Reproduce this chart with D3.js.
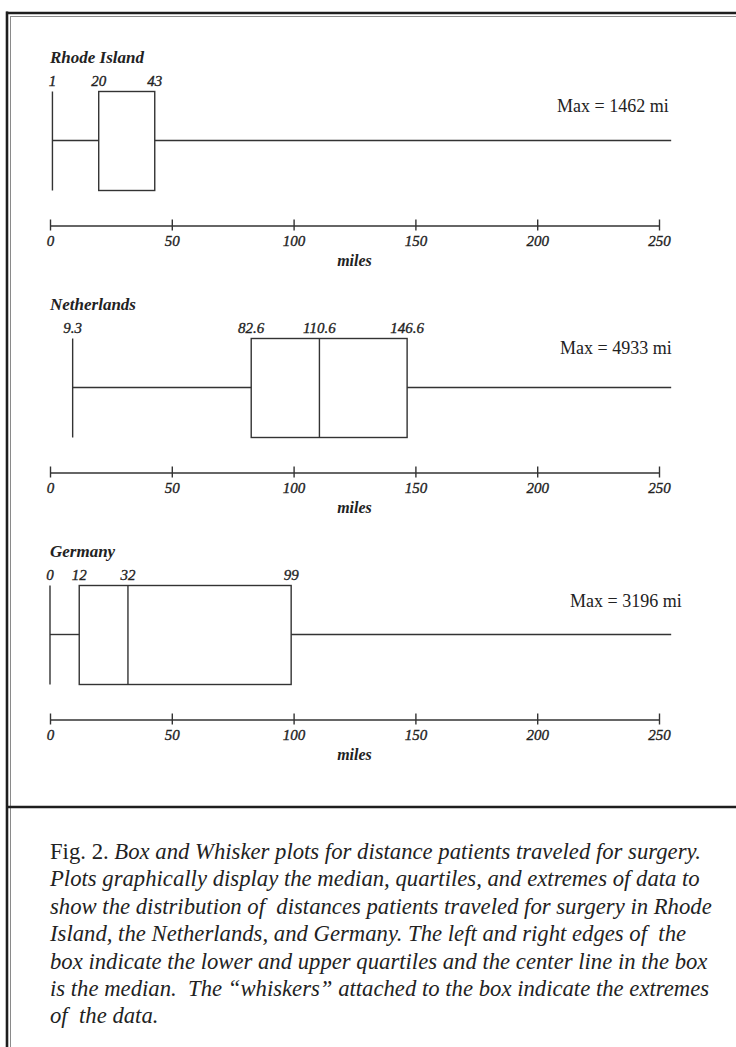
<!DOCTYPE html>
<html>
<head>
<meta charset="utf-8">
<script src="https://cdn.jsdelivr.net/npm/d3@7"></script>
<style>
  html, body { margin: 0; padding: 0; background: #fff; }
  svg { display: block; }
</style>
</head>
<body>
<svg id="chart" width="736" height="1047"></svg>
<script>
// box plot values, miles
const regions = ['Rhode Island', 'Netherlands', 'Germany'];
const minVals = [1, 9.3, 0];
const q1Vals = [20, 82.6, 12];
const medianVals = [null, 110.6, 32];
const q3Vals = [43, 146.6, 99];
const maxVals = [1462, 4933, 3196];
const axisTicks = [0, 50, 100, 150, 200, 250];
const axisDomain = [0, 250];
const whiskerCap = 255; // upper whisker is cut off here
const captionLines = [
  'Plots graphically display the median, quartiles, and extremes of data to',
  'show the distribution of  distances patients traveled for surgery in Rhode',
  'Island, the Netherlands, and Germany. The left and right edges of  the',
  'box indicate the lower and upper quartiles and the center line in the box',
  'is the median.  The \u201cwhiskers\u201d attached to the box indicate the extremes',
  'of  the data.'
];

const serif = '"Liberation Serif", "Times New Roman", serif';
const ink = '#222';
const svg = d3.select('#chart');

const x = d3.scaleLinear().domain(axisDomain).range([50, 659]);

// frame
svg.append('rect').attr('x', 0).attr('y', 0).attr('width', 736).attr('height', 1047).attr('fill', '#fff');
svg.append('line').attr('x1', 7).attr('x2', 7).attr('y1', 11.5).attr('y2', 1047)
  .attr('stroke', '#1e1e1e').attr('stroke-width', 2.6);
svg.append('line').attr('x1', 6).attr('x2', 736).attr('y1', 13).attr('y2', 13)
  .attr('stroke', '#1e1e1e').attr('stroke-width', 2.6);
svg.append('line').attr('x1', 10.5).attr('x2', 10.5).attr('y1', 16).attr('y2', 1047)
  .attr('stroke', '#8a8a8a').attr('stroke-width', 1);
svg.append('line').attr('x1', 10).attr('x2', 736).attr('y1', 16.5).attr('y2', 16.5)
  .attr('stroke', '#8a8a8a').attr('stroke-width', 1);
svg.append('line').attr('x1', 7).attr('x2', 736).attr('y1', 807).attr('y2', 807)
  .attr('stroke', '#1e1e1e').attr('stroke-width', 2.6);

const maxLabelPos = [[557, 48.5], [560, 43.5], [570, 50]];

regions.forEach((name, i) => {
  const y0 = 63 + i * 247;
  const g = svg.append('g').attr('transform', 'translate(0,' + y0 + ')');
  const top = 28.5, bot = 127.5, mid = 77.5;

  g.append('text').attr('x', 50).attr('y', 0)
    .attr('font-family', serif).attr('font-style', 'italic').attr('font-weight', 'bold')
    .attr('font-size', 17).attr('fill', ink).text(name);

  const stroke = (sel) => sel.attr('stroke', '#333').attr('stroke-width', 1.4).attr('fill', 'none');

  // whiskers
  g.append('line').attr('x1', x(minVals[i])).attr('x2', x(minVals[i]))
    .attr('y1', top).attr('y2', bot).call(stroke);
  g.append('line').attr('x1', x(minVals[i])).attr('x2', x(q1Vals[i]))
    .attr('y1', mid).attr('y2', mid).call(stroke);
  g.append('line').attr('x1', x(q3Vals[i])).attr('x2', x(Math.min(maxVals[i], whiskerCap)))
    .attr('y1', mid).attr('y2', mid).call(stroke);

  // box
  g.append('rect').attr('x', x(q1Vals[i])).attr('y', top)
    .attr('width', x(q3Vals[i]) - x(q1Vals[i])).attr('height', bot - top).call(stroke);
  if (medianVals[i] !== null) {
    g.append('line').attr('x1', x(medianVals[i])).attr('x2', x(medianVals[i]))
      .attr('y1', top).attr('y2', bot).call(stroke);
  }

  // value labels
  const vals = [minVals[i], q1Vals[i], medianVals[i], q3Vals[i]].filter(v => v !== null);
  g.selectAll('text.val').data(vals).enter().append('text').attr('class', 'val')
    .attr('x', d => x(d)).attr('y', 22.5).attr('text-anchor', 'middle')
    .attr('font-family', serif).attr('font-style', 'italic').attr('font-size', 15)
    .attr('fill', ink).attr('stroke', ink).attr('stroke-width', 0.35).text(d => d);

  g.append('text').attr('x', maxLabelPos[i][0]).attr('y', maxLabelPos[i][1])
    .attr('font-family', serif).attr('font-size', 18).attr('fill', ink)
    .text('Max = ' + maxVals[i] + ' mi');

  // axis
  const ax = g.append('g').attr('transform', 'translate(0,162.5)')
    .call(d3.axisBottom(x).tickValues(axisTicks).tickSize(5).tickSizeOuter(0).tickFormat(d3.format('d')));
  ax.select('.domain').attr('stroke', '#333').attr('stroke-width', 1.5);
  ax.selectAll('.tick line').attr('y1', -6).attr('y2', 5).attr('stroke', '#333').attr('stroke-width', 1.4);
  ax.selectAll('.tick text').attr('y', 20).attr('dy', null)
    .attr('font-family', serif).attr('font-style', 'italic').attr('font-size', 15)
    .attr('fill', ink).attr('stroke', ink).attr('stroke-width', 0.35);

  g.append('text').attr('x', (x.range()[0] + x.range()[1]) / 2).attr('y', 203)
    .attr('text-anchor', 'middle').attr('font-family', serif).attr('font-style', 'italic')
    .attr('font-weight', 'bold').attr('font-size', 16).attr('fill', ink).text('miles');
});

// caption
const cap = svg.append('g');
const first = cap.append('text').attr('x', 0).attr('y', 859)
  .attr('font-family', serif).attr('font-size', 23).attr('fill', '#222');
first.append('tspan').text('Fig. 2. ');
first.append('tspan').attr('font-style', 'italic')
  .text('Box and Whisker plots for distance patients traveled for surgery.');
captionLines.forEach((t, k) => {
  cap.append('text').attr('x', 0).attr('y', 859 + (k + 1) * 27.4)
    .attr('font-family', serif).attr('font-style', 'italic').attr('font-size', 23)
    .attr('fill', '#222').attr('xml:space', 'preserve').text(t);
});
// condense to the column width of the printed caption
const w = cap.selectAll('text').nodes()[1].getComputedTextLength();
const sx = 650 / w;
cap.attr('transform', 'translate(50,0) scale(' + sx + ',1)');
</script>
</body>
</html>
